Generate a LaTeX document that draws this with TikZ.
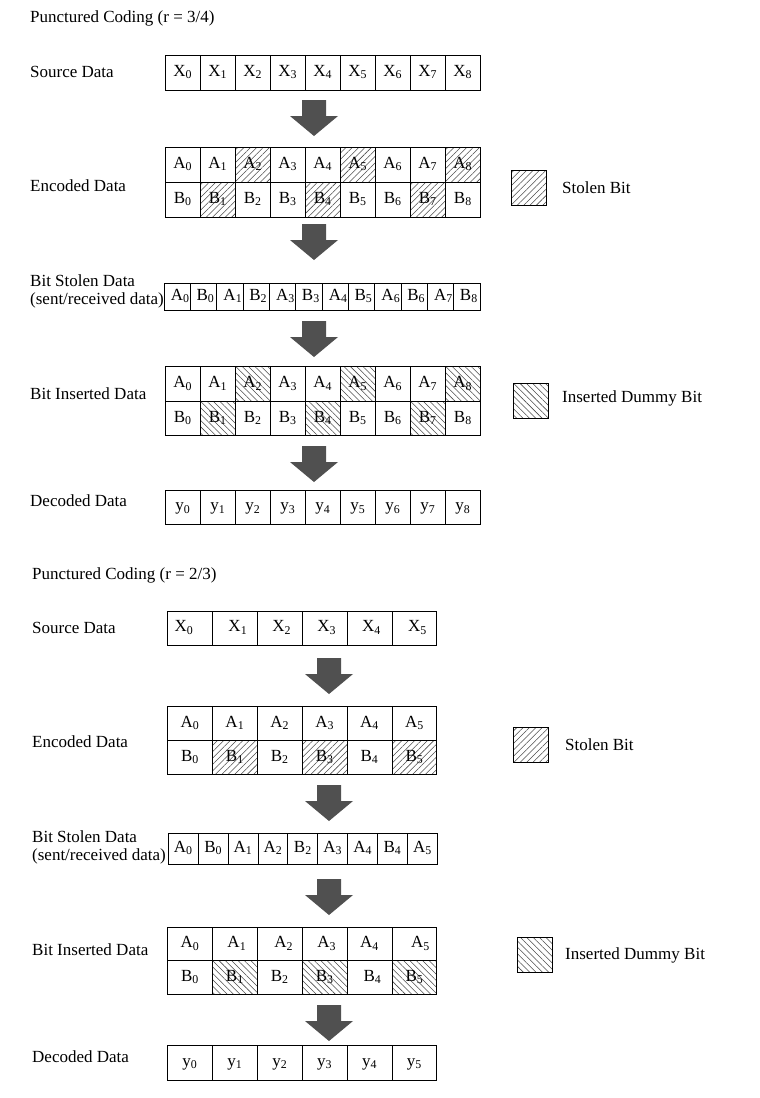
\documentclass[tikz,border=0pt]{standalone}
\usepackage{fontspec}
\setmainfont{Liberation Serif}
\usetikzlibrary{patterns.meta,calc}
\newcommand\myfs{\fontsize{17}{20}\selectfont}
\definecolor{arrowgray}{HTML}{505050}
\begin{document}
\begin{tikzpicture}[x=1pt,y=-1pt,
  every node/.style={font=\myfs},
  lab/.style={anchor=west,inner sep=0},
  cell/.style 2 args={draw,line width=0.9pt,inner sep=0,minimum width=#1,minimum height=#2,text height=11.5pt,text depth=4pt},
  txt/.style={inner sep=0,text height=11.5pt,text depth=4pt},
  nohatch/.style={},
  stolen/.style={pattern={Lines[angle=45,distance=4.5pt,line width=0.55pt]},pattern color=black!70},
  inserted/.style={pattern={Lines[angle=-45,distance=4.5pt,line width=0.55pt]},pattern color=black!70},
  barrow/.pic={\fill[arrowgray] (-12,0) -- (12,0) -- (12,16) -- (24,16) -- (0,36) -- (-24,16) -- (-12,16) -- cycle;}
]
\useasboundingbox (0,0) rectangle (760,1098);

% ================= Top section (r = 3/4) =================
\node[lab] (title1) at (30,18) {Punctured Coding (r = 3/4)};
\node[lab] (lsrc1) at (30,72) {Source Data};
\node[lab] (lenc1) at (30,186) {Encoded Data};
\node[lab] (lbs1) at (30,281) {Bit Stolen Data};
\node[lab] (lbs1b) at (30,300) {(sent/received data)};
\node[lab] (lins1) at (30,394) {Bit Inserted Data};
\node[lab] (ldec1) at (30,501) {Decoded Data};

% source
\foreach \i in {0,...,8}
  \node[cell={35pt}{35pt}] (sa\i) at ({182.8+35*\i},72.5) {X\textsubscript{\i}};

% encoded
\foreach \i/\sa/\sb in {0/nohatch/nohatch,1/nohatch/stolen,2/stolen/nohatch,3/nohatch/nohatch,4/nohatch/stolen,5/stolen/nohatch,6/nohatch/nohatch,7/nohatch/stolen,8/stolen/nohatch}{
  \node[cell={35pt}{35pt},\sa] (ea\i) at ({182.8+35*\i},164.5) {A\textsubscript{\i}};
  \node[cell={35pt}{35pt},\sb] (eb\i) at ({182.8+35*\i},199.5) {B\textsubscript{\i}};
}
\node[cell={35pt}{35pt},stolen] (leg1) at (528.5,187.5) {};
\node[lab] (legt1) at (562,188) {Stolen Bit};

% bit stolen
\foreach \a/\b [count=\k from 0] in {0/0,1/2,3/3,4/5,6/6,7/8}{
  \node[cell={26.33pt}{27pt}] (bsa\k) at ({164+52.67*\k+13.17},296.5) {};
  \node[cell={26.33pt}{27pt}] (bsb\k) at ({164+52.67*\k+39.5},296.5) {};
  \node[txt] (bsta\k) at ([xshift=3pt]bsa\k.center) {A\textsubscript{\a}};
  \node[txt] (bstb\k) at ([xshift=2pt]bsb\k.center) {B\textsubscript{\b}};
}

% bit inserted
\foreach \i/\sa/\sb in {0/nohatch/nohatch,1/nohatch/inserted,2/inserted/nohatch,3/nohatch/nohatch,4/nohatch/inserted,5/inserted/nohatch,6/nohatch/nohatch,7/nohatch/inserted,8/inserted/nohatch}{
  \node[cell={35pt}{34.5pt},\sa] (ia\i) at ({182.8+35*\i},383.75) {A\textsubscript{\i}};
  \node[cell={35pt}{34.5pt},\sb] (ib\i) at ({182.8+35*\i},418.25) {B\textsubscript{\i}};
}
\node[cell={35pt}{35pt},inserted] (leg2) at (530.5,400.5) {};
\node[lab] (legt2) at (562,398) {Inserted Dummy Bit};

% decoded
\foreach \i in {0,...,8}
  \node[cell={35pt}{34pt}] (da\i) at ({182.8+35*\i},507) {y\textsubscript{\i}};

% arrows
\coordinate (ar1) at (314,100);
\coordinate (ar2) at (314,224);
\coordinate (ar3) at (314,321);
\coordinate (ar4) at (314,446);
\foreach \c in {ar1,ar2,ar3,ar4} \pic at (\c) {barrow};

% ================= Bottom section (r = 2/3) =================
\node[lab] (title2) at (32,575) {Punctured Coding (r = 2/3)};
\node[lab] (lsrc2) at (32,628) {Source Data};
\node[lab] (lenc2) at (32,742) {Encoded Data};
\node[lab] (lbs2) at (32,837) {Bit Stolen Data};
\node[lab] (lbs2b) at (32,856) {(sent/received data)};
\node[lab] (lins2) at (32,950) {Bit Inserted Data};
\node[lab] (ldec2) at (32,1057) {Decoded Data};

% source
\foreach \i/\o in {0/-6,1/3,2/2,3/2,4/2,5/3}{
  \node[cell={44.9pt}{34pt}] (sb\i) at ({167.5+22.45+44.9*\i},628) {};
  \node[txt] (sbt\i) at ([xshift=\o pt]sb\i.center) {X\textsubscript{\i}};
}

% encoded
\foreach \i/\sb in {0/nohatch,1/stolen,2/nohatch,3/stolen,4/nohatch,5/stolen}{
  \node[cell={44.9pt}{34pt}] (fa\i) at ({167.5+22.45+44.9*\i},723.5) {A\textsubscript{\i}};
  \node[cell={44.9pt}{34pt},\sb] (fb\i) at ({167.5+22.45+44.9*\i},757.5) {B\textsubscript{\i}};
}
\node[cell={35pt}{35pt},stolen] (leg3) at (530.5,744.5) {};
\node[lab] (legt3) at (565,745) {Stolen Bit};

% bit stolen
\foreach \t [count=\k from 0] in {A\textsubscript{0},B\textsubscript{0},A\textsubscript{1},A\textsubscript{2},B\textsubscript{2},A\textsubscript{3},A\textsubscript{4},B\textsubscript{4},A\textsubscript{5}}
  \node[cell={29.9pt}{31pt}] (bs2\k) at ({168.3+14.95+29.9*\k},848.5) {\t};

% bit inserted
\foreach \i/\sb/\oa/\ob in {0/nohatch/0/0,1/inserted/2/0,2/nohatch/4/0,3/inserted/2/0,4/nohatch/0/3,5/inserted/6/0}{
  \node[cell={44.9pt}{33.5pt}] (ja\i) at ({167.5+22.45+44.9*\i},943.75) {};
  \node[cell={44.9pt}{33.5pt},\sb] (jb\i) at ({167.5+22.45+44.9*\i},977.25) {};
  \node[txt] (jta\i) at ([xshift=\oa pt]ja\i.center) {A\textsubscript{\i}};
  \node[txt] (jtb\i) at ([xshift=\ob pt]jb\i.center) {B\textsubscript{\i}};
}
\node[cell={35pt}{35pt},inserted] (leg4) at (535,954.5) {};
\node[lab] (legt4) at (565,955) {Inserted Dummy Bit};

% decoded
\foreach \i in {0,...,5}
  \node[cell={44.9pt}{35pt}] (db\i) at ({167.5+22.45+44.9*\i},1062.5) {y\textsubscript{\i}};

% arrows
\coordinate (br1) at (329,658);
\coordinate (br2) at (329,785);
\coordinate (br3) at (329,879);
\coordinate (br4) at (329,1005);
\foreach \c in {br1,br2,br3,br4} \pic at (\c) {barrow};
\end{tikzpicture}
\end{document}
